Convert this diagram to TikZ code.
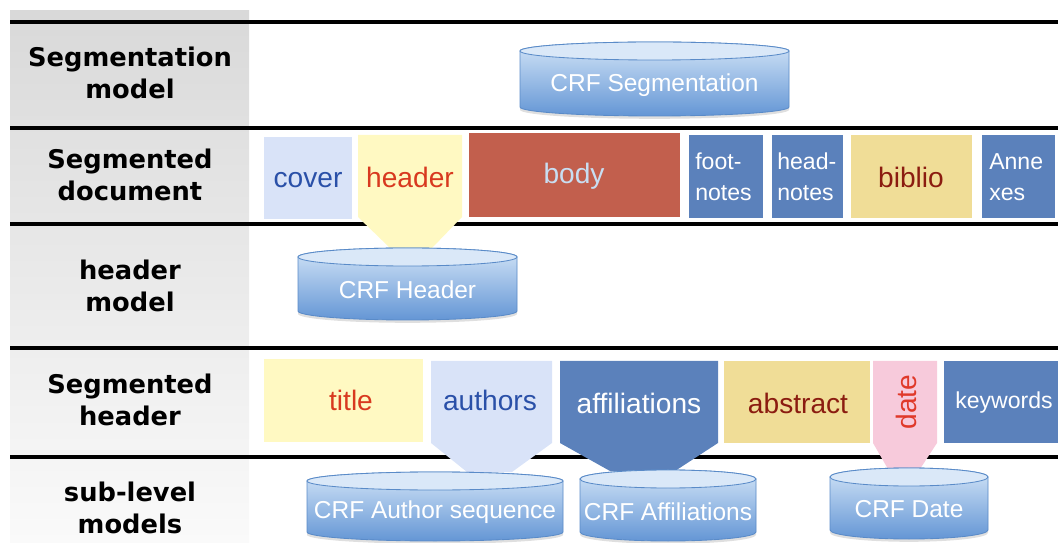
\documentclass[tikz,border=0pt]{standalone}
\usepackage{fontspec}
\setmainfont{Liberation Sans}
\newfontfamily\rowfont{DejaVu Sans}
\usetikzlibrary{shadows}

\definecolor{colgraytop}{HTML}{D9D9D9}
\definecolor{colgraybot}{HTML}{FAFAFA}
\definecolor{coverfill}{HTML}{D9E3F8}
\definecolor{covertext}{HTML}{2A50A8}
\definecolor{headfill}{HTML}{FFF9C2}
\definecolor{headtext}{HTML}{D8391F}
\definecolor{bodyfill}{HTML}{C25F4D}
\definecolor{bodytext}{HTML}{C8DEF2}
\definecolor{bluefill}{HTML}{5B81BB}
\definecolor{biblfill}{HTML}{F0DD97}
\definecolor{bibltext}{HTML}{8B1C10}
\definecolor{datefill}{HTML}{F7CADB}
\definecolor{datetext}{HTML}{E0392A}
\definecolor{crftop}{HTML}{D2E4F7}
\definecolor{crfbottom}{HTML}{6496D5}
\definecolor{crfline}{HTML}{5A8BC8}
\definecolor{crfcapcol}{HTML}{DAE8F8}

\tikzset{
  rowline/.style={line width=2.2pt, black},
  rowlabel/.style={font=\rowfont\bfseries\fontsize{18.3}{22.8}\selectfont, align=center, inner sep=0pt},
  segtext/.style={font=\fontsize{20}{24}\selectfont, inner sep=0pt},
  smalltext/.style={font=\fontsize{16.4}{22}\selectfont, inner sep=0pt, text=white, align=left, anchor=west},
  crftext/.style={font=\fontsize{17.4}{20}\selectfont, text=white, inner sep=0pt},
  crfbody/.style={top color=crftop, bottom color=crfbottom, draw=crfline, line width=0.6pt,
    drop shadow={shadow xshift=0pt, shadow yshift=-2pt, opacity=0.25}},
  crfcap/.style={fill=crfcapcol, draw=crfline, line width=0.6pt},
}

% cylinder: left, top, right, bottom, name, text
\newcommand{\crfcyl}[6]{%
  \pgfmathsetmacro{\cylc}{(#1+#3)/2}
  \pgfmathsetmacro{\cylk}{0.552*(#3-#1)/2}
  \pgfmathsetmacro{\cylr}{0.025*(#3-#1)/2}
  \path[crfbody] (#1,#2+9) -- (#1,#4-9)
    .. controls (#1,#4-4) and (\cylc-\cylk,#4) .. (\cylc,#4)
    .. controls (\cylc+\cylk,#4) and (#3,#4-4) .. (#3,#4-9) -- (#3,#2+9)
    .. controls (#3,#2+4) and (\cylc+\cylk,#2) .. (\cylc,#2)
    .. controls (\cylc-\cylk,#2) and (#1,#2+4) .. (#1,#2+9) -- cycle;
  \path[crfcap] (\cylc,#2+9) ellipse [x radius=\cylr cm, y radius=0.225cm];
  \node[crftext] (#5) at (\cylc,{(#2+#4)/2+6}) {#6};
}

\begin{document}
\begin{tikzpicture}[x=0.025cm,y=-0.025cm]
\useasboundingbox (0,0) rectangle (1058,543);

% left column and rules:
\shade[top color=colgraytop, bottom color=colgraybot] (10,11) rectangle (249,543);
\foreach \y in {22,128,224,348,457}
  \draw[rowline] (10,\y) -- (1058,\y);

% 1st row:
\crfcyl{520}{42}{789}{116}{crfseg}{CRF Segmentation}

% 2nd row:
\fill[coverfill] (264,137) rectangle (352,219);
\node[segtext, text=covertext] (cover) at (308,180) {cover};

\fill[headfill] (358,135) -- (462,135) -- (462,217) -- (432,248) -- (390,248) -- (358,217) -- cycle;
\node[segtext, text=headtext] (header) at (410,177) {header};

\fill[bodyfill] (469,133) rectangle (680,217);
\node[segtext, text=bodytext] (body) at (574,176) {body};

\fill[bluefill] (689,135) rectangle (763,218);
\node[smalltext] (footnotes) at (695,177) {foot-\\notes};

\fill[bluefill] (772,135) rectangle (843,218);
\node[smalltext] (headnotes) at (777,177) {head-\\notes};

\fill[biblfill] (851,135) rectangle (972,218);
\node[segtext, text=bibltext] (biblio) at (911,177) {biblio};

\fill[bluefill] (982,135) rectangle (1055,218);
\node[smalltext] (annexes) at (989,177) {Anne\\xes};

% 3rd row:
\crfcyl{298}{248}{517}{320}{crfhead}{CRF Header}

% 4th row:
\fill[headfill] (264,359) rectangle (423,442);
\node[segtext, text=headtext] (title) at (351,400) {title};

\fill[coverfill] (431,361) -- (552,361) -- (552,443) -- (512,472) -- (467,472) -- (431,443) -- cycle;
\node[segtext, text=covertext] (authors) at (490,400) {authors};

\fill[bluefill] (560,361) -- (718,361) -- (718,443) -- (675,471) -- (610,471) -- (560,443) -- cycle;
\node[segtext, text=white] (affiliations) at (639,403) {affiliations};

\fill[biblfill] (724,361) rectangle (870,443);
\node[segtext, text=bibltext] (abstract) at (798,403) {abstract};

\fill[datefill] (873,361) -- (937,361) -- (937,443) -- (920,469) -- (888,469) -- (873,443) -- cycle;
\node[segtext, text=datetext, rotate=90] (date) at (906,402) {date};

\fill[bluefill] (944,361) rectangle (1058,443);
\node[smalltext, anchor=center] (keywords) at (1004,403) {keywords};

% 5th row:
\crfcyl{307}{472}{563}{541}{crfauth}{CRF Author sequence}
\crfcyl{580}{470}{756}{541}{crfaff}{CRF Affiliations}
\crfcyl{830}{468}{988}{539}{crfdate}{CRF Date}

% row labels:
\node[rowlabel] (segmodel) at (130,73) {Segmentation\\model};
\node[rowlabel] (segdoc) at (130,175) {Segmented\\document};
\node[rowlabel] (headmodel) at (130,286) {header\\model};
\node[rowlabel] (seghead) at (130,400) {Segmented\\header};
\node[rowlabel] (submodels) at (130,508) {sub-level\\models};

\end{tikzpicture}
\end{document}
